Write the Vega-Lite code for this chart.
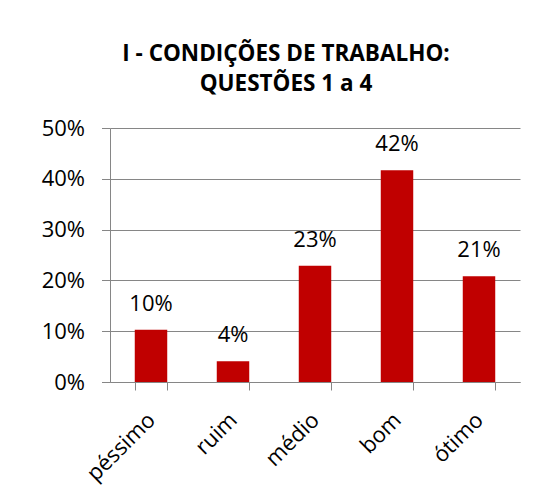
{
  "$schema": "https://vega.github.io/schema/vega-lite/v6.json",
  "width": 410,
  "height": 254,
  "autosize": {"type": "none"},
  "padding": {"left": 110, "top": 128, "right": 17, "bottom": 117},
  "background": "white",
  "title": {
    "text": ["I - CONDIÇÕES DE TRABALHO:", "QUESTÕES 1 a 4"],
    "font": "Open Sans",
    "fontSize": 22.5,
    "fontWeight": "bold",
    "color": "black",
    "lineHeight": 30,
    "anchor": "middle",
    "frame": "group",
    "dx": -29,
    "offset": 22
  },
  "data": {
    "values": [
      {"categoria": "péssimo", "valor": 0.103},
      {"categoria": "ruim", "valor": 0.041},
      {"categoria": "médio", "valor": 0.229},
      {"categoria": "bom", "valor": 0.417},
      {"categoria": "ótimo", "valor": 0.208}
    ]
  },
  "encoding": {
    "x": {
      "field": "categoria",
      "type": "nominal",
      "sort": null,
      "scale": {"paddingInner": 0.604, "paddingOuter": 0.302},
      "axis": {
        "title": null,
        "labelAngle": -45,
        "labelFont": "Open Sans",
        "labelFontSize": 22,
        "labelColor": "black",
        "domainColor": "#868686",
        "tickColor": "#868686",
        "tickSize": 8,
        "tickBand": "extent",
        "labelPadding": 19,
        "labelOffset": -7
      }
    },
    "y": {
      "field": "valor",
      "type": "quantitative",
      "scale": {"domain": [0, 0.5]},
      "axis": {
        "title": null,
        "format": ".0%",
        "values": [0, 0.1, 0.2, 0.3, 0.4, 0.5],
        "labelFont": "Open Sans",
        "labelFontSize": 22,
        "labelColor": "black",
        "labelPadding": 17,
        "domainColor": "#868686",
        "tickColor": "#868686",
        "tickSize": 8.5,
        "gridColor": "#868686",
        "gridOpacity": 1
      }
    }
  },
  "layer": [
    {"mark": {"type": "bar", "color": "#C00000"}},
    {
      "mark": {
        "type": "text",
        "font": "Open Sans",
        "fontSize": 22,
        "color": "black",
        "baseline": "alphabetic",
        "dy": -19
      },
      "encoding": {"text": {"field": "valor", "format": ".0%"}}
    }
  ],
  "config": {"view": {"stroke": null}}
}
